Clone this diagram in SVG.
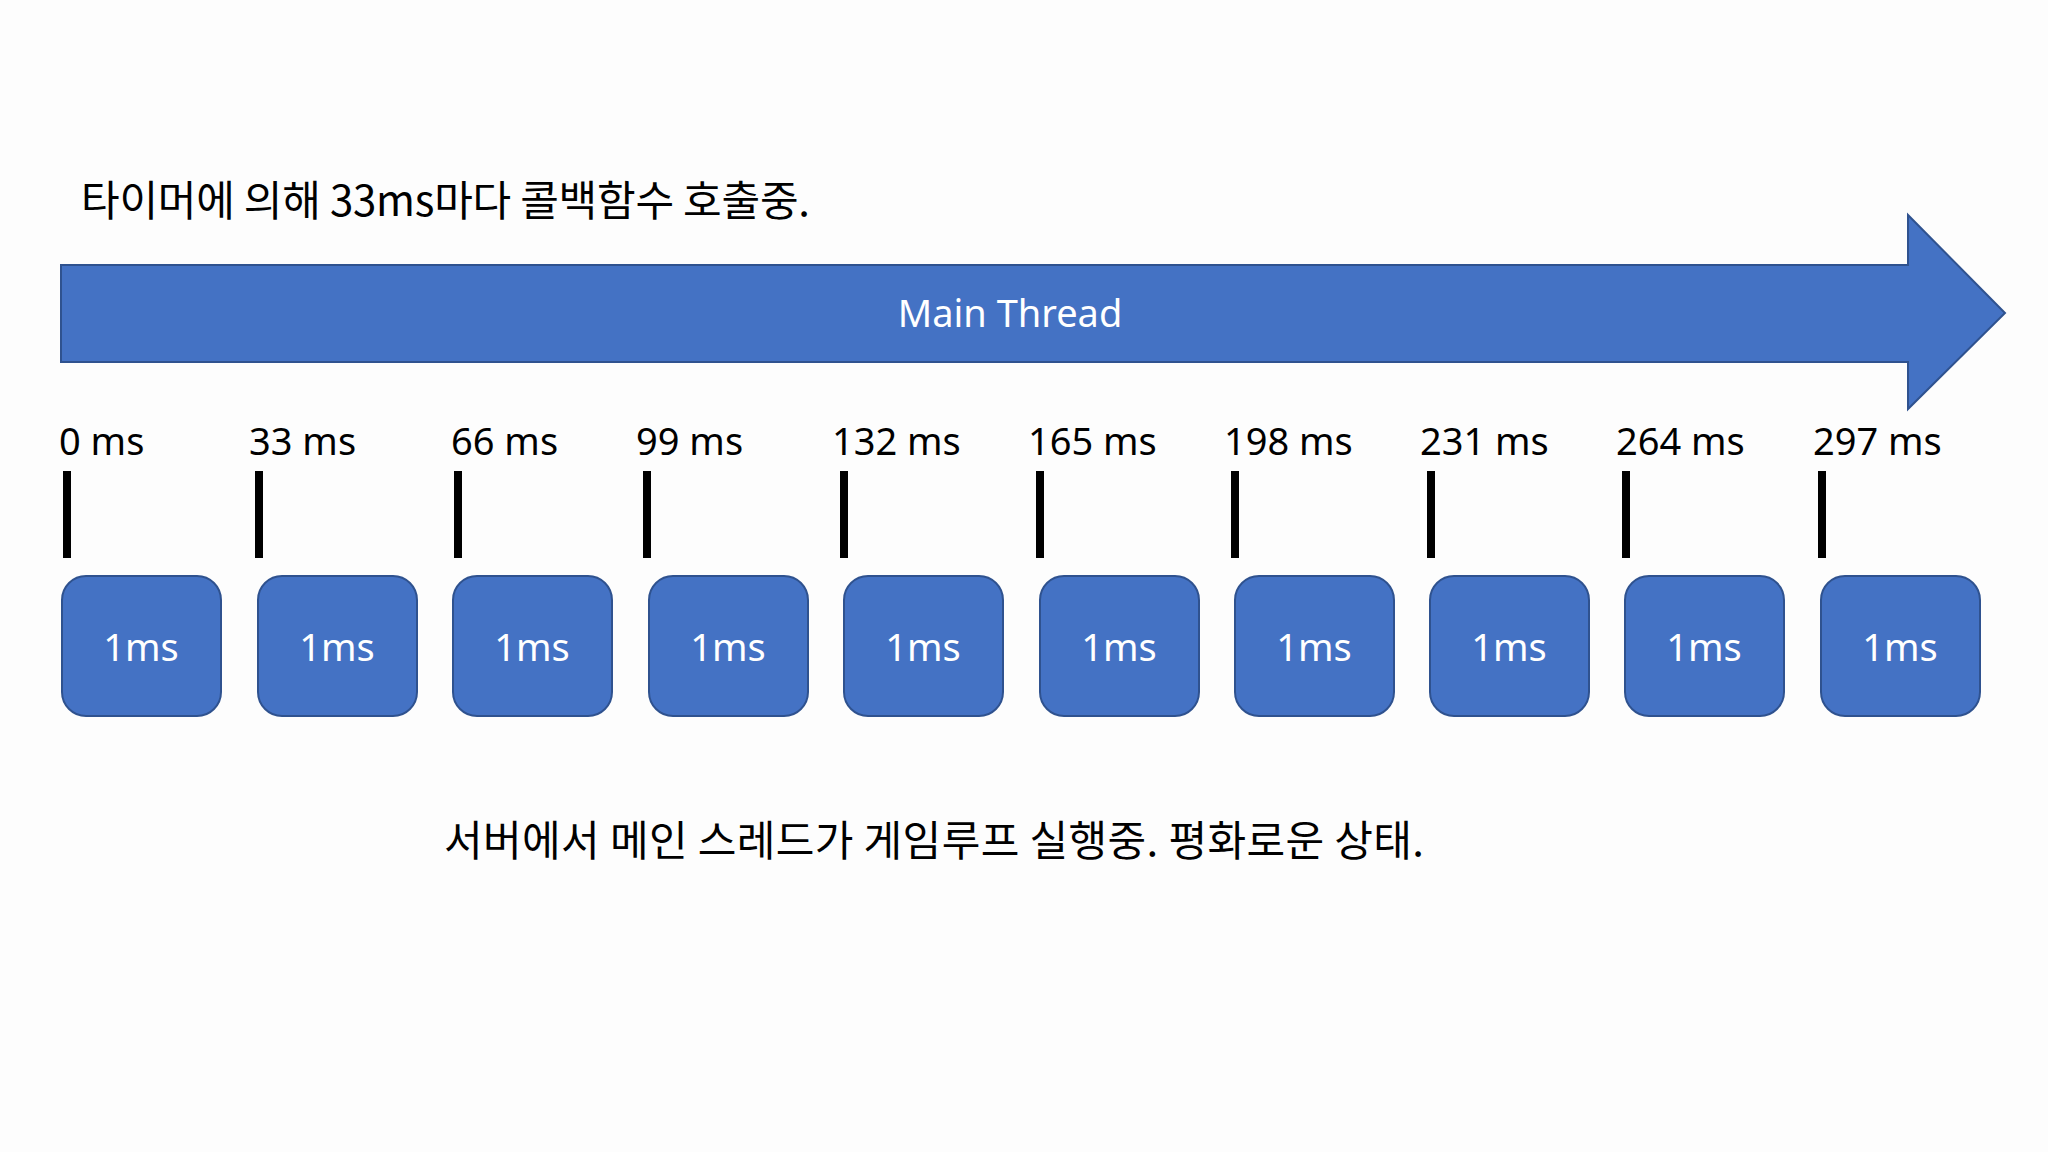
<svg xmlns="http://www.w3.org/2000/svg" width="2048" height="1152" viewBox="0 0 2048 1152">
<style>
.kr{font-family:"Noto Sans CJK KR","Noto Sans",sans-serif;font-size:42px;fill:#000}
.lbl{font-family:"Noto Sans","Open Sans",sans-serif;font-size:38px;fill:#000}
.box{fill:#4472C4;stroke:#2F528F;stroke-width:2}
.boxt{font-family:"Noto Sans","Open Sans",sans-serif;font-size:38px;fill:#fff;text-anchor:middle}
.tick{stroke:#000;stroke-width:8}
</style>
<rect width="2048" height="1152" fill="#fdfdfd"/>
<text id="title" class="kr" x="81" y="216" textLength="729" lengthAdjust="spacing">타이머에 의해 33ms마다 콜백함수 호출중.</text>
<g id="main-thread">
<path d="M61 265 H1908 V215 L2005 313 L1908 409 V362 H61 Z" fill="#4472C4" stroke="#2F528F" stroke-width="2"/>
<text x="1010" y="327" class="boxt">Main Thread</text>
</g>
<g id="labels" class="lbl">
<text x="59" y="455">0 ms</text>
<text x="249" y="455">33 ms</text>
<text x="451" y="455">66 ms</text>
<text x="636" y="455">99 ms</text>
<text x="832" y="455">132 ms</text>
<text x="1028" y="455">165 ms</text>
<text x="1224" y="455">198 ms</text>
<text x="1420" y="455">231 ms</text>
<text x="1616" y="455">264 ms</text>
<text x="1813" y="455">297 ms</text>
</g>
<g id="ticks" class="tick">
<line x1="67" y1="471" x2="67" y2="558"/>
<line x1="259" y1="471" x2="259" y2="558"/>
<line x1="458" y1="471" x2="458" y2="558"/>
<line x1="647" y1="471" x2="647" y2="558"/>
<line x1="844" y1="471" x2="844" y2="558"/>
<line x1="1040" y1="471" x2="1040" y2="558"/>
<line x1="1235" y1="471" x2="1235" y2="558"/>
<line x1="1431" y1="471" x2="1431" y2="558"/>
<line x1="1626" y1="471" x2="1626" y2="558"/>
<line x1="1822" y1="471" x2="1822" y2="558"/>
</g>
<g id="box1"><rect class="box" x="62" y="576" width="159" height="140" rx="24"/><text class="boxt" x="141" y="661">1ms</text></g>
<g id="box2"><rect class="box" x="258" y="576" width="159" height="140" rx="24"/><text class="boxt" x="337" y="661">1ms</text></g>
<g id="box3"><rect class="box" x="453" y="576" width="159" height="140" rx="24"/><text class="boxt" x="532" y="661">1ms</text></g>
<g id="box4"><rect class="box" x="649" y="576" width="159" height="140" rx="24"/><text class="boxt" x="728" y="661">1ms</text></g>
<g id="box5"><rect class="box" x="844" y="576" width="159" height="140" rx="24"/><text class="boxt" x="923" y="661">1ms</text></g>
<g id="box6"><rect class="box" x="1040" y="576" width="159" height="140" rx="24"/><text class="boxt" x="1119" y="661">1ms</text></g>
<g id="box7"><rect class="box" x="1235" y="576" width="159" height="140" rx="24"/><text class="boxt" x="1314" y="661">1ms</text></g>
<g id="box8"><rect class="box" x="1430" y="576" width="159" height="140" rx="24"/><text class="boxt" x="1509" y="661">1ms</text></g>
<g id="box9"><rect class="box" x="1625" y="576" width="159" height="140" rx="24"/><text class="boxt" x="1704" y="661">1ms</text></g>
<g id="box10"><rect class="box" x="1821" y="576" width="159" height="140" rx="24"/><text class="boxt" x="1900" y="661">1ms</text></g>
<text id="caption" class="kr" x="444" y="856" textLength="980" lengthAdjust="spacing">서버에서 메인 스레드가 게임루프 실행중. 평화로운 상태.</text>
</svg>
